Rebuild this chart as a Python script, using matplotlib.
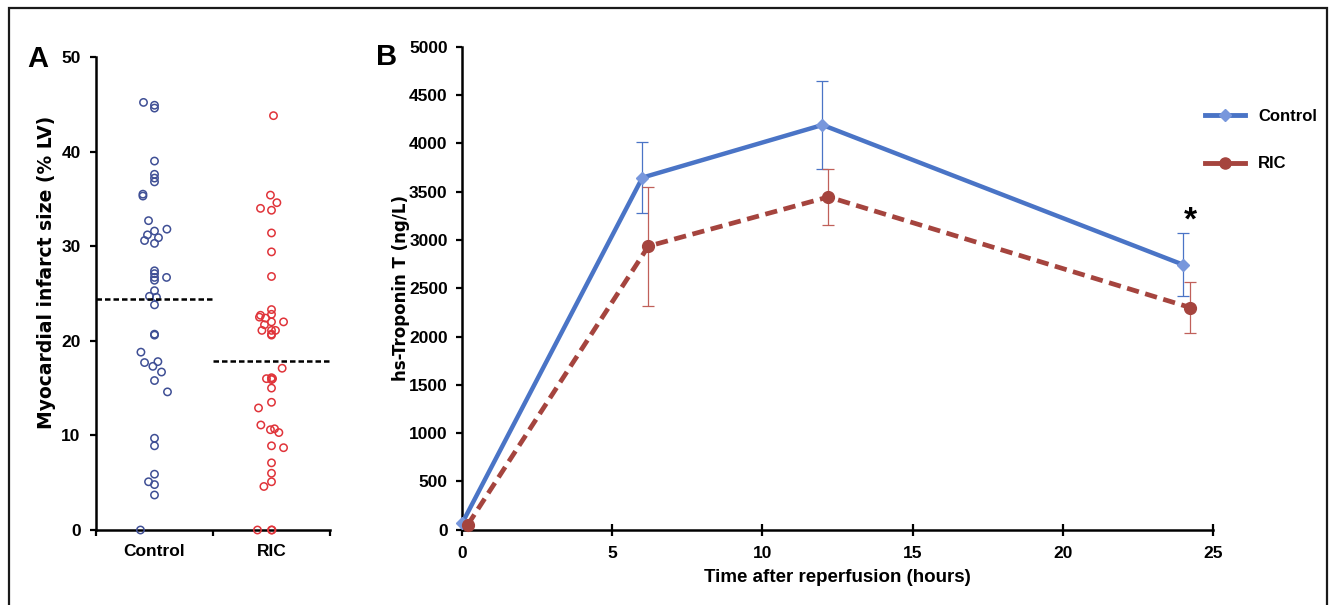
import matplotlib
matplotlib.use("Agg")
import matplotlib.pyplot as plt
from matplotlib.lines import Line2D
from matplotlib.patches import Rectangle

# ---------------- data ----------------
groups = ["Control", "RIC"]

control_vals = [45.2, 44.9, 44.6, 39.0, 37.6, 37.2, 36.8, 35.5, 35.3, 32.7, 31.8, 31.6,
                31.2, 30.9, 30.6, 30.3, 27.4, 27.1, 26.7, 26.4, 26.7, 25.3, 24.7, 24.6,
                23.8, 20.7, 20.6, 18.8, 17.7, 17.8, 17.3, 16.7, 15.8, 14.6, 9.7, 8.9,
                5.9, 5.1, 4.8, 3.7, 0.0]
control_jitter = [-0.094, 0, 0, 0, 0, 0, 0, -0.099, -0.099, -0.051, 0.106, 0,
                  -0.06, 0.034, -0.085, 0, 0, 0, 0, 0, 0.103, 0, -0.043, 0.017,
                  0, 0, 0, -0.116, -0.085, 0.029, -0.014, 0.06, 0, 0.111, 0, 0,
                  0, -0.051, 0, 0, -0.12]

ric_vals = [43.8, 35.4, 34.6, 34.0, 33.8, 31.4, 29.4, 26.8, 23.3, 22.8, 22.7, 22.5,
            22.4, 22.0, 22.0, 21.7, 21.1, 21.1, 21.1, 20.7, 20.6, 17.1, 16.1, 16.0,
            16.0, 15.9, 15.0, 13.5, 12.9, 11.1, 10.7, 10.6, 10.3, 8.9, 8.7, 7.1,
            6.0, 5.1, 4.6, 0.0, 0.0, 0.0]
ric_jitter = [0.017, -0.009, 0.046, -0.094, 0, 0, 0, 0, 0, 0, -0.094, -0.103,
              -0.051, 0, 0.103, -0.06, -0.082, 0.034, 0, 0, 0, 0.091, 0, -0.043,
              0.009, 0, 0, 0, -0.111, -0.091, 0.026, -0.009, 0.063, 0, 0.103, 0,
              0, 0, -0.065, -0.12, 0, 0.004]

group_means = [24.4, 17.9]

time_control = [0, 6, 12, 24]
trop_control = [70, 3645, 4190, 2745]
err_control = [0, 370, 460, 325]

time_ric = [0.18, 6.2, 12.2, 24.25]
trop_ric = [50, 2935, 3445, 2300]
err_ric = [0, 615, 290, 262]

# ---------------- figure ----------------
W, H = 1335, 605
fig = plt.figure(figsize=(W / 100, H / 100), dpi=100)
plt.rcParams["font.family"] = ["Liberation Sans", "DejaVu Sans"]

def fx(px):
    return px / W

def fy(py):
    return 1 - py / H

# frame around figure
fig.patches.append(Rectangle((fx(9), fy(615)), fx(1327) - fx(9), fy(8) - fy(615),
                             transform=fig.transFigure, fill=False,
                             edgecolor="#1a1a1a", linewidth=1.6))

TICK_FS = 12.5

# ---------------- panel A ----------------
axA = fig.add_axes([fx(96), fy(530), fx(330) - fx(96), fy(57) - fy(530)])
blue_pts = "#3f4f95"
red_pts = "#e0343a"
centers = [0.5, 1.5]
axA.scatter([centers[0] + j for j in control_jitter], control_vals, s=28,
            facecolors="none", edgecolors=blue_pts, linewidths=1.1, zorder=3, clip_on=False)
axA.scatter([centers[1] + j for j in ric_jitter], ric_vals, s=28,
            facecolors="none", edgecolors=red_pts, linewidths=1.1, zorder=3, clip_on=False)
for i, m in enumerate(group_means):
    axA.plot([i, i + 1], [m, m], color="black", linewidth=1.8,
             linestyle=(0, (2.2, 1.2)), zorder=4)

axA.set_xlim(0, 2)
axA.set_ylim(0, 50)
axA.set_yticks([0, 10, 20, 30, 40, 50])
axA.set_xticks([0, 1, 2])
axA.set_xticklabels([])
axA.set_xticks(centers, minor=True)
axA.set_xticklabels(groups, minor=True, fontsize=12.5, fontweight="bold")
axA.tick_params(axis="x", which="minor", length=0, pad=10)
axA.tick_params(axis="x", which="major", length=4, width=1.6, direction="out")
axA.tick_params(axis="y", length=4.5, width=1.6, direction="out", pad=6.5)
for lab in axA.get_yticklabels():
    lab.set_fontsize(TICK_FS)
    lab.set_fontweight("bold")
for s in ["top", "right"]:
    axA.spines[s].set_visible(False)
for s in ["left", "bottom"]:
    axA.spines[s].set_linewidth(1.8)
axA.set_ylabel("Myocardial infarct size (% LV)", fontsize=13.5, fontweight="bold",
               family=["DejaVu Sans"])
axA.yaxis.set_label_coords(-0.172, 0.545)

fig.text(fx(27), fy(67), "A", fontsize=21, fontweight="bold", ha="left", va="baseline")

# ---------------- panel B ----------------
axB = fig.add_axes([fx(462.3), fy(529.7), fx(1212.7) - fx(462.3), fy(46.7) - fy(529.7)])
c_line = "#4a74c6"
c_mark = "#7897dc"
r_line = "#a5443e"

axB.errorbar(time_control, trop_control, yerr=err_control, fmt="none",
             ecolor=c_line, elinewidth=0.9, capsize=4, capthick=0.9, zorder=2)
axB.errorbar(time_ric, trop_ric, yerr=err_ric, fmt="none",
             ecolor="#c0605a", elinewidth=0.9, capsize=4, capthick=0.9, zorder=2)
axB.plot(time_control, trop_control, color=c_line, linewidth=3.2,
         marker="D", markersize=6.5, markerfacecolor=c_mark, markeredgecolor=c_mark,
         zorder=3, clip_on=False)
axB.plot(time_ric, trop_ric, color=r_line, linewidth=3.4, linestyle=(0, (2.6, 1.4)),
         marker="o", markersize=8.5, markerfacecolor=r_line, markeredgecolor=r_line,
         zorder=4, clip_on=False)

axB.text(time_ric[3], 3200, "*", fontsize=24, fontweight="bold", ha="center", va="center")

axB.set_xlim(0, 25)
axB.set_ylim(0, 5000)
axB.set_xticks([0, 5, 10, 15, 20, 25])
axB.set_yticks(list(range(0, 5001, 500)))
axB.tick_params(axis="x", length=9, width=1.6, direction="inout", pad=7)
axB.tick_params(axis="y", length=4.5, width=1.6, direction="out", pad=6)
for lab in axB.get_xticklabels() + axB.get_yticklabels():
    lab.set_fontsize(TICK_FS)
    lab.set_fontweight("bold")
for s in ["top", "right"]:
    axB.spines[s].set_visible(False)
for s in ["left", "bottom"]:
    axB.spines[s].set_linewidth(1.8)
axB.set_ylabel("hs-Troponin T (ng/L)", fontsize=12, fontweight="bold",
               family=["DejaVu Sans"])
axB.yaxis.set_label_coords(-0.07, 0.5)
axB.set_xlabel("Time after reperfusion (hours)", fontsize=13.5, fontweight="bold")
axB.xaxis.set_label_coords(0.5, -0.082)

fig.text(fx(376), fy(65), "B", fontsize=21, fontweight="bold", ha="left", va="baseline")

handles = [
    Line2D([], [], color=c_line, linewidth=3.5, marker="D", markersize=6,
           markerfacecolor=c_mark, markeredgecolor=c_mark),
    Line2D([], [], color=r_line, linewidth=3.5, marker="o", markersize=8,
           markerfacecolor=r_line, markeredgecolor=r_line),
]
fig.legend(handles, groups, loc="upper left", bbox_to_anchor=(fx(1205), fy(109)),
           frameon=False, borderpad=0, borderaxespad=0, handlelength=2.4,
           handletextpad=0.8, labelspacing=1.95,
           prop={"size": 12, "weight": "bold"})

fig.savefig("out.png", dpi=100)
